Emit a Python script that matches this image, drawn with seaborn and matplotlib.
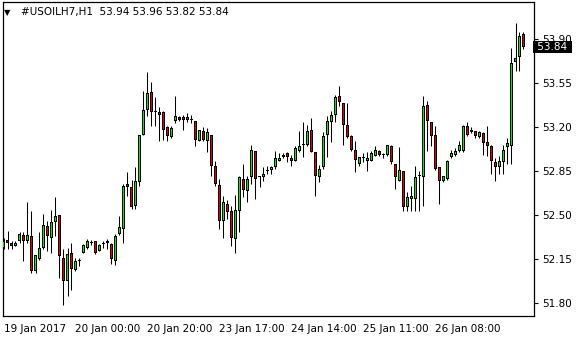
import matplotlib
matplotlib.use("Agg")
import matplotlib.pyplot as plt
import matplotlib.transforms as mtransforms
import numpy as np
import pandas as pd
import seaborn as sns

# ---- data (USOILH7, H1) ----
opens = [52.24, 52.30, 52.28, 52.25, 52.29, 52.34, 52.29, 52.33, 52.05, 52.15,
         52.24, 52.41, 52.32, 52.44, 52.50, 52.16, 51.97, 52.20, 52.06, 52.13,
         52.20, 52.24, 52.28, 52.29, 52.21, 52.27, 52.28, 52.27, 52.13, 52.35,
         52.39, 52.75, 52.72, 52.57, 52.76, 53.14, 53.34, 53.48, 53.33, 53.32,
         53.32, 53.20, 53.12, 53.25, 53.28, 53.28, 53.28, 53.26, 53.25, 53.09,
         53.17, 53.09, 53.14, 52.89, 52.74, 52.45, 52.59, 52.53, 52.31, 52.53,
         52.79, 52.69, 52.80, 53.01, 52.80, 52.80, 52.85, 52.86, 52.88, 52.93,
         52.96, 52.99, 52.95, 52.93, 53.01, 53.06, 53.06, 53.18, 53.00, 52.80,
         52.88, 53.14, 53.24, 53.30, 53.45, 53.39, 53.22, 53.13, 53.02, 52.91,
         52.95, 52.93, 52.93, 52.97, 53.01, 52.98, 52.98, 53.05, 52.91, 52.77,
         52.85, 52.56, 52.63, 52.63, 52.81, 52.80, 53.38, 53.24, 53.14, 52.88,
         52.77, 52.79, 52.96, 52.98, 53.01, 53.01, 53.21, 53.16, 53.17, 53.12,
         53.15, 53.08, 53.05, 52.92, 52.88, 52.92, 53.04, 53.05, 53.72, 53.76,
         53.94]
highs = [52.32, 52.37, 52.29, 52.29, 52.36, 52.36, 52.60, 52.53, 52.18, 52.36,
         52.51, 52.45, 52.54, 52.64, 52.50, 52.23, 52.24, 52.28, 52.16, 52.16,
         52.27, 52.31, 52.30, 52.29, 52.27, 52.29, 52.31, 52.28, 52.35, 52.49,
         52.75, 52.84, 52.78, 52.88, 53.14, 53.49, 53.64, 53.56, 53.44, 53.36,
         53.33, 53.21, 53.21, 53.45, 53.29, 53.30, 53.31, 53.30, 53.25, 53.18,
         53.20, 53.19, 53.14, 52.93, 52.79, 52.65, 52.62, 52.57, 52.66, 52.81,
         52.91, 52.81, 53.06, 53.01, 52.81, 52.88, 52.89, 52.89, 53.01, 52.99,
         52.99, 53.00, 52.98, 53.05, 53.17, 53.24, 53.22, 53.27, 53.00, 52.90,
         53.16, 53.29, 53.33, 53.46, 53.53, 53.39, 53.39, 53.14, 53.09, 52.96,
         52.99, 53.00, 53.01, 53.05, 53.02, 52.99, 53.06, 53.06, 52.91, 53.04,
         52.85, 52.68, 52.73, 52.89, 52.85, 53.45, 53.41, 53.24, 53.21, 52.88,
         52.81, 52.94, 53.02, 53.03, 53.09, 53.22, 53.24, 53.20, 53.17, 53.17,
         53.16, 53.21, 53.06, 52.95, 52.97, 53.06, 53.11, 53.83, 54.03, 53.96,
         53.96]
lows = [52.23, 52.23, 52.23, 52.25, 52.28, 52.13, 52.28, 52.04, 52.04, 52.14,
        52.23, 52.21, 52.20, 52.33, 52.00, 51.78, 51.85, 51.90, 52.05, 52.09,
        52.20, 52.23, 52.26, 52.19, 52.21, 52.24, 52.23, 52.11, 52.10, 52.34,
        52.28, 52.65, 52.55, 52.55, 52.73, 53.14, 53.29, 53.21, 53.21, 53.09,
        53.10, 53.09, 53.11, 53.23, 53.25, 53.18, 53.24, 53.23, 53.05, 53.09,
        53.09, 53.00, 52.81, 52.73, 52.39, 52.32, 52.47, 52.25, 52.20, 52.36,
        52.64, 52.60, 52.75, 52.63, 52.72, 52.77, 52.83, 52.83, 52.87, 52.93,
        52.95, 52.92, 52.89, 52.93, 53.00, 52.96, 53.05, 53.00, 52.65, 52.76,
        52.87, 52.96, 53.08, 53.24, 53.37, 53.06, 53.11, 53.01, 52.84, 52.89,
        52.92, 52.85, 52.93, 52.97, 52.97, 52.95, 52.97, 52.91, 52.71, 52.77,
        52.53, 52.53, 52.53, 52.53, 52.53, 52.57, 53.01, 53.05, 52.86, 52.59,
        52.76, 52.78, 52.95, 52.97, 53.00, 53.00, 53.13, 53.15, 53.11, 53.11,
        52.98, 52.97, 52.83, 52.77, 52.83, 52.83, 52.91, 52.91, 53.65, 53.65,
        53.82]
closes = [52.29, 52.28, 52.25, 52.28, 52.35, 52.29, 52.34, 52.05, 52.18, 52.24,
          52.42, 52.33, 52.44, 52.49, 52.17, 51.97, 52.19, 52.07, 52.13, 52.14,
          52.26, 52.29, 52.28, 52.20, 52.26, 52.28, 52.29, 52.15, 52.33, 52.40,
          52.73, 52.72, 52.56, 52.77, 53.14, 53.34, 53.47, 53.32, 53.32, 53.30,
          53.18, 53.13, 53.19, 53.29, 53.26, 53.26, 53.26, 53.26, 53.10, 53.18,
          53.10, 53.16, 52.89, 52.75, 52.45, 52.60, 52.52, 52.32, 52.54, 52.80,
          52.70, 52.79, 53.02, 52.79, 52.80, 52.83, 52.85, 52.88, 52.95, 52.95,
          52.98, 52.96, 52.93, 53.03, 53.05, 53.06, 53.17, 53.00, 52.81, 52.87,
          53.13, 53.25, 53.30, 53.44, 53.40, 53.22, 53.12, 53.02, 52.94, 52.96,
          52.95, 52.95, 52.99, 53.02, 52.98, 52.98, 53.06, 52.92, 52.80, 52.86,
          52.56, 52.64, 52.65, 52.80, 52.81, 53.37, 53.25, 53.13, 52.87, 52.77,
          52.81, 52.93, 52.99, 53.01, 53.06, 53.21, 53.14, 53.18, 53.13, 53.16,
          53.07, 53.05, 52.93, 52.88, 52.93, 53.02, 53.07, 53.71, 53.75, 53.93,
          53.84]

price_ticks = [51.80, 52.15, 52.50, 52.85, 53.20, 53.55, 53.90]
time_tick_bars = [0, 18, 36, 54, 72, 90, 108]
time_tick_labels = ["19 Jan 2017", "20 Jan 00:00", "20 Jan 20:00", "23 Jan 17:00",
                    "24 Jan 14:00", "25 Jan 11:00", "26 Jan 08:00"]
symbol = "#USOILH7,H1"
last_bar = (53.94, 53.96, 53.82, 53.84)

# ---- styling ----
sns.set_theme(style="white")
plt.rcParams["font.family"] = ["DejaVu Sans"]

W, H = 580, 340
fig = plt.figure(figsize=(W / 100, H / 100), dpi=100)
fig.patch.set_facecolor("white")
ax = fig.add_axes([2.7 / W, 1 - 316 / H, (534.3 - 2.7) / W, (316 - 2) / H])
ax.set_facecolor("white")

ymin, ymax = 51.694, 54.198
ax.set_xlim(-0.2, 132.7)
ax.set_ylim(ymin, ymax)
px = (ymax - ymin) / 314.0   # one pixel in price units

df = pd.DataFrame({"open": opens, "high": highs, "low": lows, "close": closes})
df["bar"] = np.arange(len(df))
df["bottom"] = df[["open", "close"]].min(axis=1)
df["body"] = (df["close"] - df["open"]).abs()
df["up"] = df["close"] >= df["open"]
df["outer_h"] = np.maximum(df["body"], px)
df["inner_b"] = df["bottom"] + px
df["inner_h"] = np.clip(df["body"] - 2 * px, 0, None)

green = "#00F000"
red = "#E00000"

# wicks
ax.vlines(df["bar"], df["low"], df["high"], color="black", linewidth=0.75, zorder=2)
# body outlines (black) and coloured fill
ax.bar(df["bar"], df["outer_h"], bottom=df["bottom"], width=0.75,
       color="black", linewidth=0, zorder=3)
filled = df[df["inner_h"] > 0]
ax.bar(filled["bar"], filled["inner_h"], bottom=filled["inner_b"], width=0.3,
       color=np.where(filled["up"], green, red), linewidth=0, zorder=4)

for s in ax.spines.values():
    s.set_visible(True)
    s.set_color("black")
    s.set_linewidth(0.9)

ax.yaxis.tick_right()
ax.set_yticks(price_ticks)
ax.set_yticklabels([f"{v:.2f}" for v in price_ticks])
ax.set_xticks(time_tick_bars)
ax.set_xticklabels(time_tick_labels, ha="left")
ax.tick_params(axis="both", which="both", direction="out", length=3, width=0.8,
               color="black", labelsize=7.5, labelcolor="black")
ax.tick_params(axis="x", pad=3)
ax.tick_params(axis="y", pad=3, right=True, left=False)
ax.grid(False)

# current price tag
trans = mtransforms.blended_transform_factory(ax.transAxes, ax.transData)
ax.text(1.0, last_bar[3], " 53.84 ", transform=trans, ha="left", va="center",
        fontsize=7.5, color="white", clip_on=False, zorder=10,
        bbox=dict(boxstyle="square,pad=0.12", fc="black", ec="none"))

# header
fig.text(4 / W, 1 - 12.5 / H, "\u25BC", fontsize=6, ha="left", va="center", color="black")
fig.text(21 / W, 1 - 12.5 / H,
         f"{symbol}  {last_bar[0]:.2f} {last_bar[1]:.2f} {last_bar[2]:.2f} {last_bar[3]:.2f}",
         fontsize=7.5, ha="left", va="center", color="black")

fig.savefig("out.png", dpi=100, facecolor="white")
